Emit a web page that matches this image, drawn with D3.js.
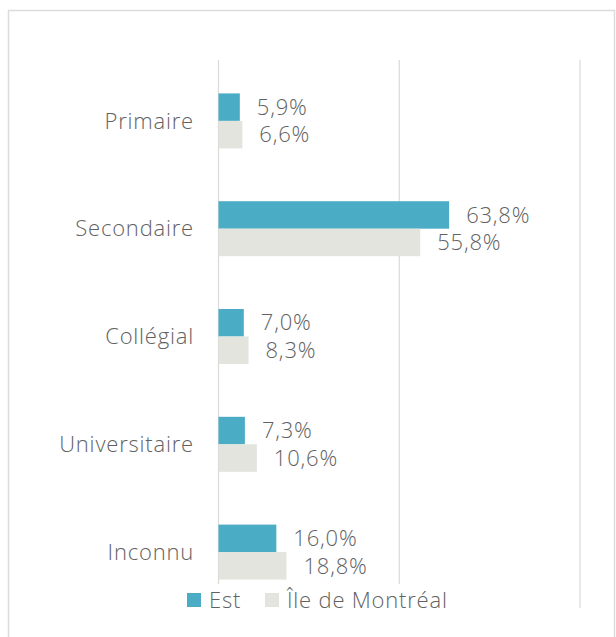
<!DOCTYPE html>
<html>
<head>
<meta charset="utf-8">
<script src="https://cdn.jsdelivr.net/npm/d3@7"></script>
<style>
  body { margin: 0; background: #fff; }
  text { font-family: "Open Sans", "Noto Sans", sans-serif; fill: #626262; font-weight: 300; letter-spacing: 0.8px; }
</style>
</head>
<body>
<div id="chart"></div>
<script>
// data
var categories = ["Primaire", "Secondaire", "Collégial", "Universitaire", "Inconnu"];
var seriesNames = ["Est", "Île de Montréal"];
var estValues = [5.9, 63.8, 7.0, 7.3, 16.0];
var ileValues = [6.6, 55.8, 8.3, 10.6, 18.8];
var gridTicks = [0, 50, 100];

var colorBars = d3.scaleOrdinal().domain(seriesNames).range(["#4BACC6", "#E2E4DD"]);

var width = 616, height = 637;
var svg = d3.select("#chart").append("svg")
    .attr("width", width)
    .attr("height", height);

// chart frame (cut by the bottom of the picture)
svg.append("rect")
    .attr("x", 8.5).attr("y", 10.5)
    .attr("width", 606).attr("height", 700)
    .attr("fill", "#fff")
    .attr("stroke", "#DCDCDC")
    .attr("stroke-width", 1.5);

var x = d3.scaleLinear().domain([0, 100]).range([218.5, 580]);
var y = d3.scaleBand().domain(categories).range([67, 606]).paddingInner(0.49).paddingOuter(0.245);
var ySub = d3.scaleBand().domain(seriesNames).range([0, y.bandwidth()]);

// gridlines
svg.append("g").selectAll("line")
    .data(gridTicks)
    .enter().append("line")
    .attr("x1", function (d) { return x(d); })
    .attr("x2", function (d) { return x(d); })
    .attr("y1", 60).attr("y2", 608)
    .attr("stroke", "#D9D9D9")
    .attr("stroke-width", 1.2);

// category labels
svg.append("g").selectAll("text")
    .data(categories)
    .enter().append("text")
    .attr("x", 194)
    .attr("y", function (d) { return y(d) + y.bandwidth() / 2; })
    .attr("dy", "0.35em")
    .attr("text-anchor", "end")
    .style("font-size", "22px")
    .text(function (d) { return d; });

var rows = categories.map(function (c, i) {
    return { cat: c, vals: [
        { name: seriesNames[0], v: estValues[i] },
        { name: seriesNames[1], v: ileValues[i] }
    ] };
});

var group = svg.selectAll(".cat")
    .data(rows)
    .enter().append("g")
    .attr("class", "cat")
    .attr("transform", function (d) { return "translate(0," + y(d.cat) + ")"; });

group.selectAll("rect")
    .data(function (d) { return d.vals; })
    .enter().append("rect")
    .attr("x", x(0))
    .attr("y", function (d) { return ySub(d.name); })
    .attr("width", function (d) { return x(d.v) - x(0); })
    .attr("height", ySub.bandwidth())
    .style("fill", function (d) { return colorBars(d.name); });

var fmt = function (v) { return v.toFixed(1).replace(".", ",") + "%"; };

group.selectAll(".val")
    .data(function (d) { return d.vals; })
    .enter().append("text")
    .attr("class", "val")
    .attr("x", function (d) { return x(d.v) + 17; })
    .attr("y", function (d) { return ySub(d.name) + ySub.bandwidth() / 2; })
    .attr("dy", "0.35em")
    .style("font-size", "22px")
    .text(function (d) { return fmt(d.v); });

// legend
var legend = svg.append("g").attr("transform", "translate(0,600)");
legend.append("rect")
    .attr("x", 180).attr("y", -16).attr("width", 280).attr("height", 32)
    .attr("fill", "#fff");
var legendX = [187, 265];
var item = legend.selectAll(".legend")
    .data(seriesNames)
    .enter().append("g")
    .attr("class", "legend")
    .attr("transform", function (d, i) { return "translate(" + legendX[i] + ",0)"; });
item.append("rect")
    .attr("y", -7).attr("width", 14).attr("height", 14)
    .style("fill", colorBars);
item.append("text")
    .attr("x", 22)
    .attr("dy", "0.35em")
    .style("font-size", "22px")
    .text(function (d) { return d; });
</script>
</body>
</html>
